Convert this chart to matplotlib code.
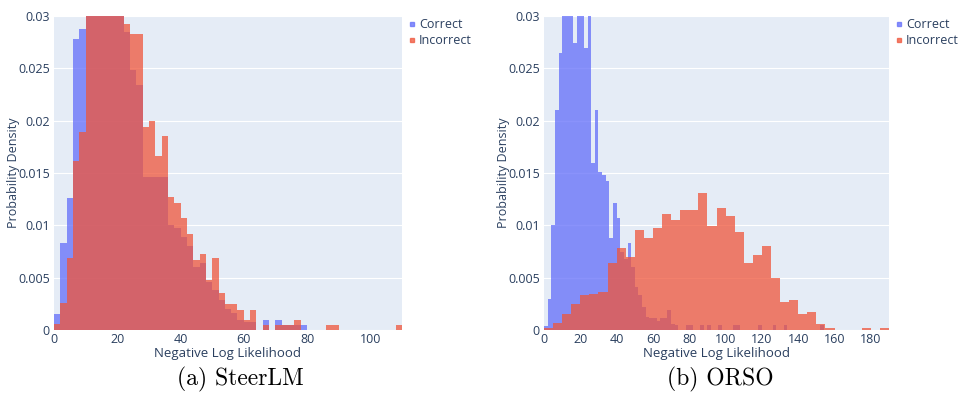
import numpy as np
import matplotlib.pyplot as plt
from matplotlib.lines import Line2D

# SteerLM: histogram densities, bins of width 2 from 0 to 110
bin_a = 2
correct_a = [0.0015, 0.0083, 0.0126, 0.0278, 0.0288, 0.031, 0.033, 0.034, 0.034, 0.033,
             0.031, 0.0285, 0.0248, 0.0234, 0.0146, 0.0146, 0.0146, 0.0146, 0.0100, 0.0097,
             0.0089, 0.0080, 0.0060, 0.0064, 0.0046, 0.0038, 0.0029, 0.0020, 0.0016, 0.0010,
             0.0008, 0.0008, 0, 0.00096, 0, 0.00096, 0.0005, 0.0005, 0.0005, 0.0005,
             0, 0, 0, 0, 0, 0, 0, 0, 0, 0, 0, 0, 0, 0, 0]
incorrect_a = [0.0006, 0.0026, 0.0069, 0.0161, 0.0189, 0.032, 0.034, 0.035, 0.035, 0.034,
               0.032, 0.0292, 0.0283, 0.0283, 0.0194, 0.0200, 0.0166, 0.0185, 0.0127, 0.0121,
               0.0107, 0.0092, 0.0067, 0.0073, 0.0048, 0.0069, 0.0035, 0.0025, 0.0025, 0.0019,
               0.00096, 0.0019, 0, 0.0005, 0, 0.0005, 0.0005, 0.0005, 0.00096, 0,
               0, 0, 0, 0.0005, 0.0005, 0, 0, 0, 0, 0, 0, 0, 0, 0, 0.0005]

# ORSO: correct in bins of width 2, incorrect in bins of width 5, 0 to 190
bin_b_correct = 2
bin_b_incorrect = 5
correct_b = [0.0004, 0.0030, 0.0100, 0.0210, 0.0265, 0.032, 0.034, 0.033, 0.0274, 0.032,
             0.031, 0.0269, 0.0305, 0.0160, 0.0210, 0.0151, 0.0148, 0.0142, 0.0088, 0.0121,
             0.0107, 0.0075, 0.0068, 0.0083, 0.0060, 0.0041, 0.0033, 0.0022, 0.0012, 0.0011,
             0.0011, 0.0009, 0.0011, 0.0011, 0.0019, 0.0006, 0.0005, 0, 0, 0.0005,
             0.0005, 0, 0, 0.0005, 0, 0.0005, 0, 0, 0.0005, 0,
             0, 0, 0.0005, 0.0005, 0, 0, 0, 0, 0, 0.0005,
             0, 0, 0, 0.0005, 0, 0, 0.0005, 0, 0, 0,
             0, 0, 0, 0, 0, 0, 0.0005, 0, 0, 0,
             0, 0, 0, 0, 0, 0, 0, 0, 0, 0, 0, 0, 0, 0, 0]
incorrect_b = [0.0002, 0.0007, 0.0015, 0.0025, 0.0033, 0.0034, 0.0036, 0.0064, 0.0078, 0.0070,
               0.0096, 0.0088, 0.0097, 0.0111, 0.0105, 0.0115, 0.0115, 0.0131, 0.0099, 0.0117,
               0.0109, 0.0094, 0.0064, 0.0072, 0.0080, 0.0050, 0.0027, 0.0029, 0.0015, 0.0017,
               0.00057, 0.00016, 0, 0, 0, 0.00016, 0, 0.00016]

yticks = [0, 0.005, 0.01, 0.015, 0.02, 0.025, 0.03]
ytick_labels = ['0', '0.005', '0.01', '0.015', '0.02', '0.025', '0.03']

blue = '#636EFA'
red = '#EF553B'
txt = '#2a3f5f'
plt.rcParams['font.family'] = ['Open Sans', 'DejaVu Sans']

fig = plt.figure(figsize=(9.62, 4.01), dpi=100)
ax1 = fig.add_axes([54/962, 71/401, 348/962, 314/401])
ax2 = fig.add_axes([544/962, 71/401, 345/962, 314/401])


def draw(ax, corr, w_c, inc, w_i, xmax, xticks):
    ax.set_facecolor('#E5ECF6')
    ax.bar(np.arange(len(corr)) * w_c, corr, width=w_c, align='edge',
           color=blue, alpha=0.75, linewidth=0, zorder=2)
    ax.bar(np.arange(len(inc)) * w_i, inc, width=w_i, align='edge',
           color=red, alpha=0.75, linewidth=0, zorder=3)
    ax.set_xlim(0, xmax)
    ax.set_ylim(0, 0.03)
    ax.set_yticks(yticks)
    ax.set_yticklabels(ytick_labels)
    ax.set_xticks(xticks)
    ax.grid(axis='y', color='white', linewidth=0.8, zorder=1)
    ax.set_axisbelow(True)
    for s in ax.spines.values():
        s.set_visible(False)
    ax.tick_params(length=0, labelsize=9, labelcolor=txt, pad=3)
    ax.tick_params(axis='x', pad=2)
    ax.set_xlabel('Negative Log Likelihood', fontsize=9.5, color=txt, labelpad=1)
    ax.set_ylabel('Probability Density', fontsize=9, color=txt)
    ax.yaxis.set_label_coords(-34 / (ax.get_position().width * 962), 0.5)
    handles = [Line2D([], [], marker='s', markersize=2.5, linestyle='none', color=blue, alpha=0.75),
               Line2D([], [], marker='s', markersize=2.5, linestyle='none', color=red, alpha=0.75)]
    leg = ax.legend(handles, ['Correct', 'Incorrect'], loc='upper left',
                    bbox_to_anchor=(1.01, 1.0), frameon=False, fontsize=9,
                    handlelength=0.6, handletextpad=0.3, labelspacing=0.2,
                    borderaxespad=0, borderpad=0.2)
    for t in leg.get_texts():
        t.set_color(txt)


draw(ax1, correct_a, bin_a, incorrect_a, bin_a, 110, [0, 20, 40, 60, 80, 100])
draw(ax2, correct_b, bin_b_correct, incorrect_b, bin_b_incorrect, 190,
     [0, 20, 40, 60, 80, 100, 120, 140, 160, 180])

fig.text(240/962, 1 - 379/401, '(a) SteerLM', ha='center', va='center',
         family='cmr10', fontsize=17)
fig.text(720/962, 1 - 379/401, '(b) ORSO', ha='center', va='center',
         family='cmr10', fontsize=17)

fig.savefig('out.png', dpi=100)
